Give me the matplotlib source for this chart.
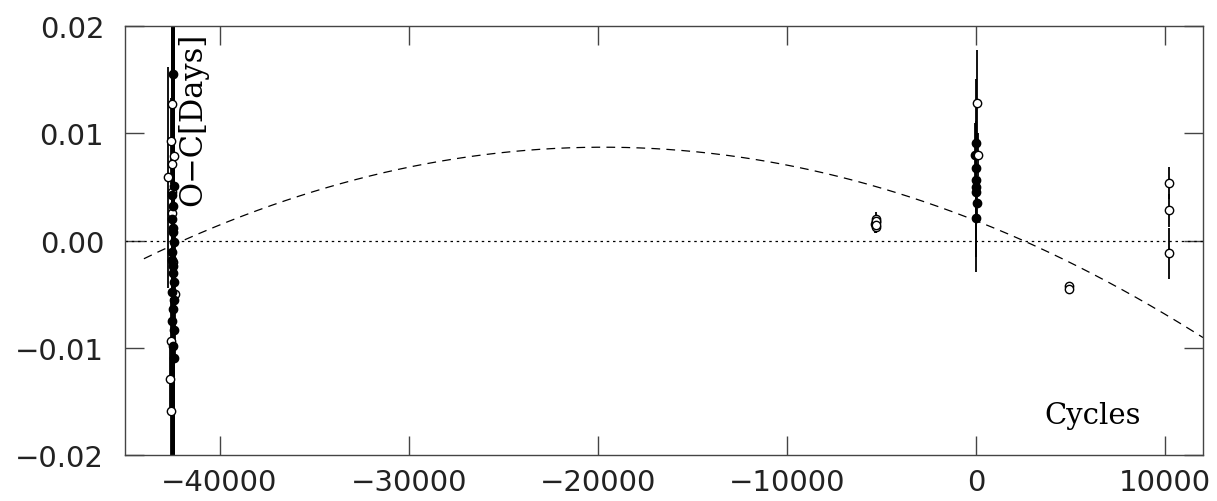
import numpy as np
import matplotlib
matplotlib.use("Agg")
import matplotlib.pyplot as plt

# old timings near cycle -42500 (filled = primary, open = secondary)
old_E_filled = [-42480, -42420, -42470, -42530, -42440, -42400, -42510, -42460, -42420, -42500,
                -42450, -42540, -42410, -42470, -42430, -42500, -42450, -42520, -42480, -42420]
old_oc_filled = [0.0155, 0.0051, 0.0032, 0.0020, 0.0008, -0.0001, -0.0011, -0.0024, -0.0039, -0.0048,
                 -0.0064, -0.0075, -0.0083, -0.0098, -0.0110, 0.0042, 0.0012, -0.0018, -0.0030, -0.0055]
old_err_filled = [0.020, 0.018, 0.025, 0.022, 0.030, 0.026, 0.022, 0.020, 0.026, 0.024,
                  0.024, 0.018, 0.020, 0.025, 0.022, 0.019, 0.020, 0.023, 0.027, 0.021]

old_E_open = [-42520, -42560, -42400, -42540, -42750, -42510, -42380, -42590, -42600, -42560, -42530, -42450]
old_oc_open = [0.0127, 0.0093, 0.0079, 0.0071, 0.0059, 0.0045, -0.0050, -0.0094, -0.0129, -0.0159, 0.0026, -0.0020]
old_err_open = [0.005, 0.004, 0.010, 0.006, 0.0103, 0.008, 0.006, 0.004, 0.003, 0.005, 0.007, 0.006]

# recent timings
mid_E = [-5300, -5280, -5320, -5300, -5290, -5310]
mid_oc = [0.0020, 0.0017, 0.0015, 0.0013, 0.0018, 0.0014]
mid_err = [0.0007, 0.0005, 0.0008, 0.0006, 0.0005, 0.0007]

new_E_filled = [0, -30, 20, 0, -20, 10, 40, 0]
new_oc_filled = [0.0091, 0.0080, 0.0068, 0.0056, 0.0050, 0.0045, 0.0035, 0.0021]
new_err_filled = [0.0020, 0.0030, 0.0083, 0.0025, 0.0030, 0.0020, 0.0015, 0.0050]

new_E_open = [30, 80]
new_oc_open = [0.0128, 0.0080]
new_err_open = [0.0050, 0.0020]

late_E = [4900, 4920, 10200, 10200, 10200]
late_oc = [-0.0042, -0.0045, 0.0054, 0.0028, -0.0012]
late_err = [0.0002, 0.0002, 0.0015, 0.0015, 0.0024]

# quadratic ephemeris fit: O-C = c0 + c1*E + c2*E^2
c0, c1, c2 = 0.00184, -6.957e-7, -1.764e-11
fit_range = (-44000, 12000)

fig = plt.figure(figsize=(12.17, 5.02), dpi=100)
ax = fig.add_axes([0.1027, 0.0916, 0.8858, 0.8546])

ax.axhline(0, color='black', lw=0.9, ls=(0, (2, 3)))
E = np.linspace(fit_range[0], fit_range[1], 300)
ax.plot(E, c0 + c1 * E + c2 * E ** 2, color='black', lw=0.9, ls=(0, (7, 5)))

kw = dict(fmt='o', color='black', ecolor='black', elinewidth=1.3, capsize=0, ms=6, mew=1)
ax.errorbar(old_E_open, old_oc_open, yerr=old_err_open, mfc='white', **kw)
ax.errorbar(old_E_filled, old_oc_filled, yerr=old_err_filled, mfc='black', **kw)
ax.errorbar(mid_E, mid_oc, yerr=mid_err, mfc='white', **kw)
ax.errorbar(new_E_filled, new_oc_filled, yerr=new_err_filled, mfc='black', **kw)
ax.errorbar(new_E_open, new_oc_open, yerr=new_err_open, mfc='white', **kw)
ax.errorbar(late_E, late_oc, yerr=late_err, mfc='white', **kw)

ax.set_xlim(-45000, 12000)
ax.set_ylim(-0.02, 0.02)
ax.set_xticks([-40000, -30000, -20000, -10000, 0, 10000])
ax.set_yticks([-0.02, -0.01, 0.0, 0.01, 0.02])
ax.set_yticklabels(['\u22120.02', '\u22120.01', '0.00', '0.01', '0.02'])
ax.set_xticklabels(['\u221240000', '\u221230000', '\u221220000', '\u221210000', '0', '10000'])
ax.tick_params(direction='in', length=14, width=1, top=True, right=True,
               labelsize=21, colors='#444444', labelcolor='#222222')
ax.tick_params(axis='y', pad=15)
ax.tick_params(axis='x', pad=9)
for s in ax.spines.values():
    s.set_color('#444444')
    s.set_linewidth(1)

ax.text(-41400, 0.0195, 'O\u2212C[Days]', rotation=90, ha='center', va='top',
        family='DejaVu Serif', fontsize=22)
ax.text(8700, -0.0163, 'Cycles', ha='right', va='center', family='DejaVu Serif', fontsize=21)

fig.savefig('out.png', dpi=100)
